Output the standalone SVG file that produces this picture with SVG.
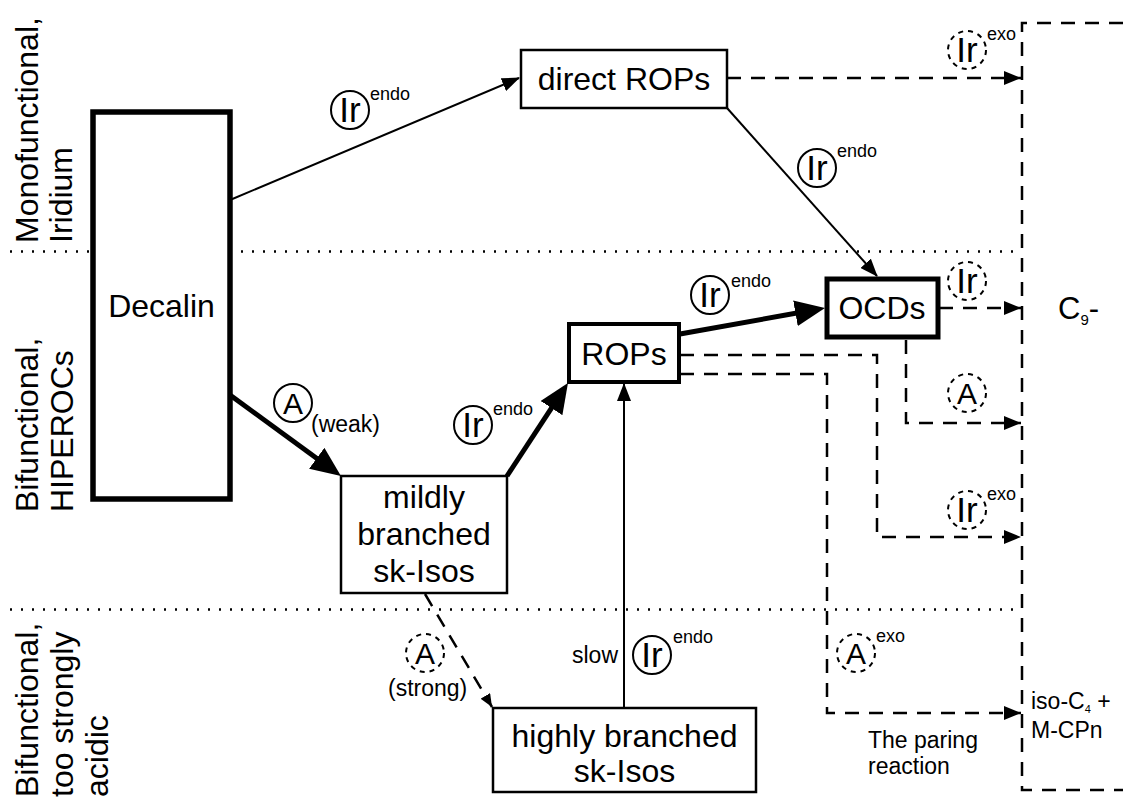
<svg xmlns="http://www.w3.org/2000/svg" width="1123" height="797" viewBox="0 0 1123 797">
<style>
text{font-family:"Liberation Sans",Arial,sans-serif;fill:#000}
.big{font-size:32px}
.mid{font-size:23px}
.sup{font-size:18px}
.ir{font-size:35px;text-anchor:middle}
.a{font-size:30px;text-anchor:middle}
.c{text-anchor:middle}
.box{fill:#fff;stroke:#000}
.dot{fill:none;stroke:#000;stroke-width:2.5;stroke-dasharray:2 9}
.thin{fill:none;stroke:#000;stroke-width:2}
.thick{fill:none;stroke:#000;stroke-width:5}
.dash{fill:none;stroke:#000;stroke-width:2.5;stroke-dasharray:14 10}
.circ{fill:none;stroke:#000;stroke-width:2}
.dcirc{fill:none;stroke:#000;stroke-width:2;stroke-dasharray:5 5}
</style>
<defs>
<marker id="ah-thin" markerUnits="userSpaceOnUse" viewBox="0 0 18 14" refX="17" refY="7" markerWidth="18" markerHeight="14" orient="auto"><path d="M0,0 L18,7 L0,14 z"/></marker>
<marker id="ah-thick" markerUnits="userSpaceOnUse" viewBox="0 0 30 26" refX="10" refY="13" markerWidth="30" markerHeight="26" orient="auto"><path d="M0,0 L30,13 L0,26 z"/></marker>
<marker id="ah-dash" markerUnits="userSpaceOnUse" viewBox="0 0 17 14" refX="17" refY="7" markerWidth="17" markerHeight="14" orient="auto"><path d="M0,0 L17,7 L0,14 z"/></marker>
<marker id="ah-small" markerUnits="userSpaceOnUse" viewBox="0 0 13 11" refX="13" refY="5.5" markerWidth="13" markerHeight="11" orient="auto"><path d="M0,0 L13,5.5 L0,11 z"/></marker>
</defs>

<g id="region-lines">
<path class="dot" d="M10,251.5 H1018"/>
<path class="dot" d="M10,609.5 H1018"/>
</g>

<g id="region-labels" class="big">
<g transform="translate(38,243) rotate(-90)"><text x="0" y="0">Monofunctional,</text><text x="0" y="34">Iridium</text></g>
<g transform="translate(38,512) rotate(-90)"><text x="0" y="0">Bifunctional,</text><text x="0" y="35">HIPEROCs</text></g>
<g transform="translate(38,797) rotate(-90)"><text x="0" y="0">Bifunctional,</text><text x="0" y="35">too strongly</text><text x="0" y="70">acidic</text></g>
</g>

<g id="connectors">
<path class="thin" d="M230,200 L519,78" marker-end="url(#ah-thin)"/>
<path class="thin" d="M727,108 L877,276" marker-end="url(#ah-thin)"/>
<path class="thin" d="M624,708 V384" marker-end="url(#ah-thin)"/>
<path class="thick" d="M230,395 L324.8,464.2" marker-end="url(#ah-thick)"/>
<path class="thick" d="M507,476 L557,399.7" marker-end="url(#ah-thick)"/>
<path class="thick" d="M680,334 L805.3,311.5" marker-end="url(#ah-thick)"/>
<path class="dash" d="M727,78 H1021" marker-end="url(#ah-dash)"/>
<path class="dash" d="M939,308 H1021" marker-end="url(#ah-dash)"/>
<path class="dash" d="M906,340 V423 H1021" marker-end="url(#ah-dash)"/>
<path class="dash" d="M680,355 H877 V537 H1021" marker-end="url(#ah-dash)"/>
<path class="dash" d="M680,374 H827 V713 H1021" marker-end="url(#ah-dash)"/>
<path class="dash" d="M1123,23 H1022 V790 H1123"/>
<path class="dash" d="M425,594 L492,707" stroke-dasharray="8 6" stroke-width="2" marker-end="url(#ah-small)"/>
</g>

<g id="decalin"><rect class="box" x="93" y="112" width="137" height="387" stroke-width="5.5"/><text class="big c" x="161.5" y="317">Decalin</text></g>
<g id="direct-rops"><rect class="box" x="521" y="50" width="206" height="58" stroke-width="2.5"/><text class="big c" x="624" y="90">direct ROPs</text></g>
<g id="ocds"><rect class="box" x="827" y="279" width="111" height="58" stroke-width="5"/><text class="big c" x="882" y="319">OCDs</text></g>
<g id="rops"><rect class="box" x="569" y="324" width="110" height="58" stroke-width="4"/><text class="big c" x="624" y="365">ROPs</text></g>
<g id="mildly"><rect class="box" x="341" y="476" width="166" height="117" stroke-width="2.5"/><text class="big c" x="424" y="508">mildly</text><text class="big c" x="424" y="545">branched</text><text class="big c" x="424" y="582">sk-Isos</text></g>
<g id="highly"><rect class="box" x="493" y="708" width="263" height="84" stroke-width="2.5"/><text class="big c" x="624.5" y="747">highly branched</text><text class="big c" x="624.5" y="782">sk-Isos</text></g>
<g id="c9"><text x="1058" y="319" font-size="31">C<tspan font-size="15" dy="6">9</tspan><tspan dy="-6">-</tspan></text></g>
<g id="iso-c4"><text class="mid" x="1031" y="709">iso-C<tspan font-size="11" dy="4">4</tspan><tspan dy="-4"> +</tspan></text><text class="mid" x="1031" y="738">M-CPn</text></g>

<g id="catalyst-labels">
<g><circle class="circ" cx="350" cy="110" r="19"/><text class="ir" x="350" y="122">Ir</text><text class="sup" x="370" y="100">endo</text></g>
<g><circle class="circ" cx="817" cy="168" r="19"/><text class="ir" x="817" y="180">Ir</text><text class="sup" x="837" y="157">endo</text></g>
<g><circle class="circ" cx="710" cy="295" r="19"/><text class="ir" x="710" y="307">Ir</text><text class="sup" x="731" y="287">endo</text></g>
<g><circle class="circ" cx="473" cy="425" r="19"/><text class="ir" x="473" y="437">Ir</text><text class="sup" x="493" y="415">endo</text></g>
<g><circle class="circ" cx="293" cy="403" r="19"/><text class="a" x="293" y="414">A</text><text class="mid" x="311" y="432">(weak)</text></g>
<g><circle class="circ" cx="652" cy="655" r="19"/><text class="ir" x="652" y="667">Ir</text><text class="sup" x="673" y="643">endo</text><text class="mid" x="618" y="663" text-anchor="end">slow</text></g>
<g><circle class="dcirc" cx="425" cy="653" r="19"/><text class="a" x="425" y="664">A</text><text class="mid" x="388" y="696">(strong)</text></g>
<g><circle class="dcirc" cx="967" cy="50" r="19"/><text class="ir" x="967" y="62">Ir</text><text class="sup" x="987" y="40">exo</text></g>
<g><circle class="dcirc" cx="967" cy="281" r="19"/><text class="ir" x="967" y="293">Ir</text></g>
<g><circle class="dcirc" cx="967" cy="393" r="19"/><text class="a" x="967" y="404">A</text></g>
<g><circle class="dcirc" cx="967" cy="510" r="19"/><text class="ir" x="967" y="522">Ir</text><text class="sup" x="987" y="500">exo</text></g>
<g><circle class="dcirc" cx="856" cy="653" r="19"/><text class="a" x="856" y="664">A</text><text class="sup" x="876" y="642">exo</text></g>
<g><text class="mid" x="868" y="748">The paring</text><text class="mid" x="868" y="774">reaction</text></g>
</g>
</svg>
